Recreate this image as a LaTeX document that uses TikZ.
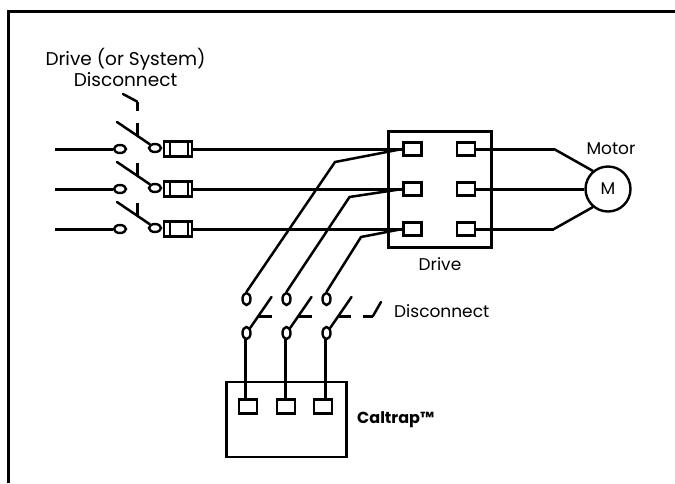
\documentclass[tikz,border=0pt]{standalone}
\usepackage{fontspec}
\setmainfont{Poppins}
\usetikzlibrary{shapes.geometric}
\tikzset{
  wire/.style={line width=2.5pt,line join=round,line cap=round},
  hwire/.style={line width=3pt,line join=miter},
  term/.style={draw,line width=2.4pt,fill=white,minimum width=18pt,minimum height=13pt,inner sep=0pt},
  contactH/.style={draw,line width=2.4pt,fill=white,ellipse,minimum width=12pt,minimum height=8pt,inner sep=0pt},
  contactV/.style={draw,line width=2.4pt,fill=white,ellipse,minimum width=8pt,minimum height=12pt,inner sep=0pt},
  lab/.style={font=\fontsize{17}{21}\selectfont,inner sep=0pt,align=center},
}
\begin{document}
\begin{tikzpicture}[x=1pt,y=-1pt]
\useasboundingbox (0,0) rectangle (675,483);
\fill[white] (0,0) rectangle (675,483);
\draw[hwire] (8,483) -- (8,11) -- (675,11);
% drive
\node[draw,line width=2.4pt,minimum width=103pt,minimum height=116pt,inner sep=0pt] (drive) at (440,189.5) {};
\foreach \n/\y in {a/149,b/189,c/229}{
  \node[term] (l\n) at (412.5,\y) {};
  \node[term] (r\n) at (466,\y) {};
  \coordinate (in\n) at (55,\y);
  \node[contactH] (cl\n) at (120,\y) {};
  \node[contactH] (cr\n) at (155,{\y-1}) {};
  \node[draw,line width=2.4pt,minimum width=28pt,minimum height=15pt,inner sep=0pt] (f\n) at (178,\y) {};
  \draw[line width=1.6pt] ([xshift=7pt]f\n.north west) -- ([xshift=7pt]f\n.south west);
  \draw[line width=1.6pt] ([xshift=-5pt]f\n.north east) -- ([xshift=-5pt]f\n.south east);
  \draw[hwire] (in\n) -- (cl\n.west);
  \draw[hwire] (f\n.east) -- (l\n.west);
  \coordinate (b1\n) at (117,{\y-27});
  \draw[wire] (b1\n) -- (cr\n.north west);
  \coordinate (d1\n) at (137,{\y-26});
  \coordinate (d2\n) at (137,{\y-13});
  \draw[hwire] (d1\n) -- (d2\n);
}
\coordinate (t1) at (123,94);
\coordinate (t2) at (137,101.5);
\coordinate (t3) at (137,111);
\draw[wire] (t1) -- (t2);
\draw[hwire] (t2) -- (t3);
% motor
\node[draw,circle,line width=2.4pt,minimum size=45pt,inner sep=0pt,font=\fontsize{17}{19}\selectfont] (m) at (608,189) {M};
\coordinate (ka) at (554,149);
\coordinate (kc) at (554,229);
\draw[hwire] (ra.east) -- (ka);
\draw[wire] (ka) -- (m.130);
\draw[hwire] (rb.east) -- (m.west);
\draw[hwire] (rc.east) -- (kc);
\draw[wire] (kc) -- (m.230);
% lower disconnect
\foreach \n/\x/\kx/\ky/\ty in {a/246.5/335/162/149,b/286.5/349.5/197/189,c/326.5/361/237/229}{
  \node[contactV] (u\n) at (\x,299) {};
  \node[contactV] (v\n) at (\x,333) {};
  \coordinate (k\n) at (\kx,\ky);
  \draw[wire] (u\n.north) -- (k\n) -- (l\n.west);
  \coordinate (bt\n) at ({\x+25},297);
  \draw[wire] (v\n.north east) -- (bt\n);
}
\coordinate (ha1) at (258,316); \coordinate (ha2) at (272,316);
\coordinate (hb1) at (298,316); \coordinate (hb2) at (312,316);
\coordinate (hc1) at (339,316); \coordinate (hc2) at (351,316);
\draw[hwire] (ha1) -- (ha2);
\draw[hwire] (hb1) -- (hb2);
\draw[hwire] (hc1) -- (hc2);
\coordinate (e1) at (363,316); \coordinate (e2) at (373,316); \coordinate (e3) at (381,302);
\draw[hwire] (e1) -- (e2);
\draw[wire] (e2) -- (e3);
% caltrap
\node[draw,line width=2.4pt,minimum width=120pt,minimum height=75pt,inner sep=0pt] (cal) at (286.5,419.5) {};
\foreach \n/\tx in {a/248,b/286,c/323}{
  \node[term,minimum height=14pt] (ct\n) at (\tx,406.5) {};
}
\foreach \n/\wx in {a/245,b/285,c/325}{
  \coordinate (w\n) at (\wx,399);
  \draw[hwire] (\wx,339) -- (w\n);
}
% labels
\node[lab,font=\fontsize{18.5}{21}\selectfont] (t0) at (125.5,67.5) {Drive (or System)\\Disconnect};
\node[lab] (tm) at (611,149) {Motor};
\node[lab] (td) at (440,264.5) {Drive};
\node[lab,anchor=west] (tdc) at (394,311.5) {Disconnect};
\node[lab,anchor=west,font=\fontsize{16}{19}\selectfont\bfseries] (tc) at (357,420) {Caltrap™};
\end{tikzpicture}
\end{document}
